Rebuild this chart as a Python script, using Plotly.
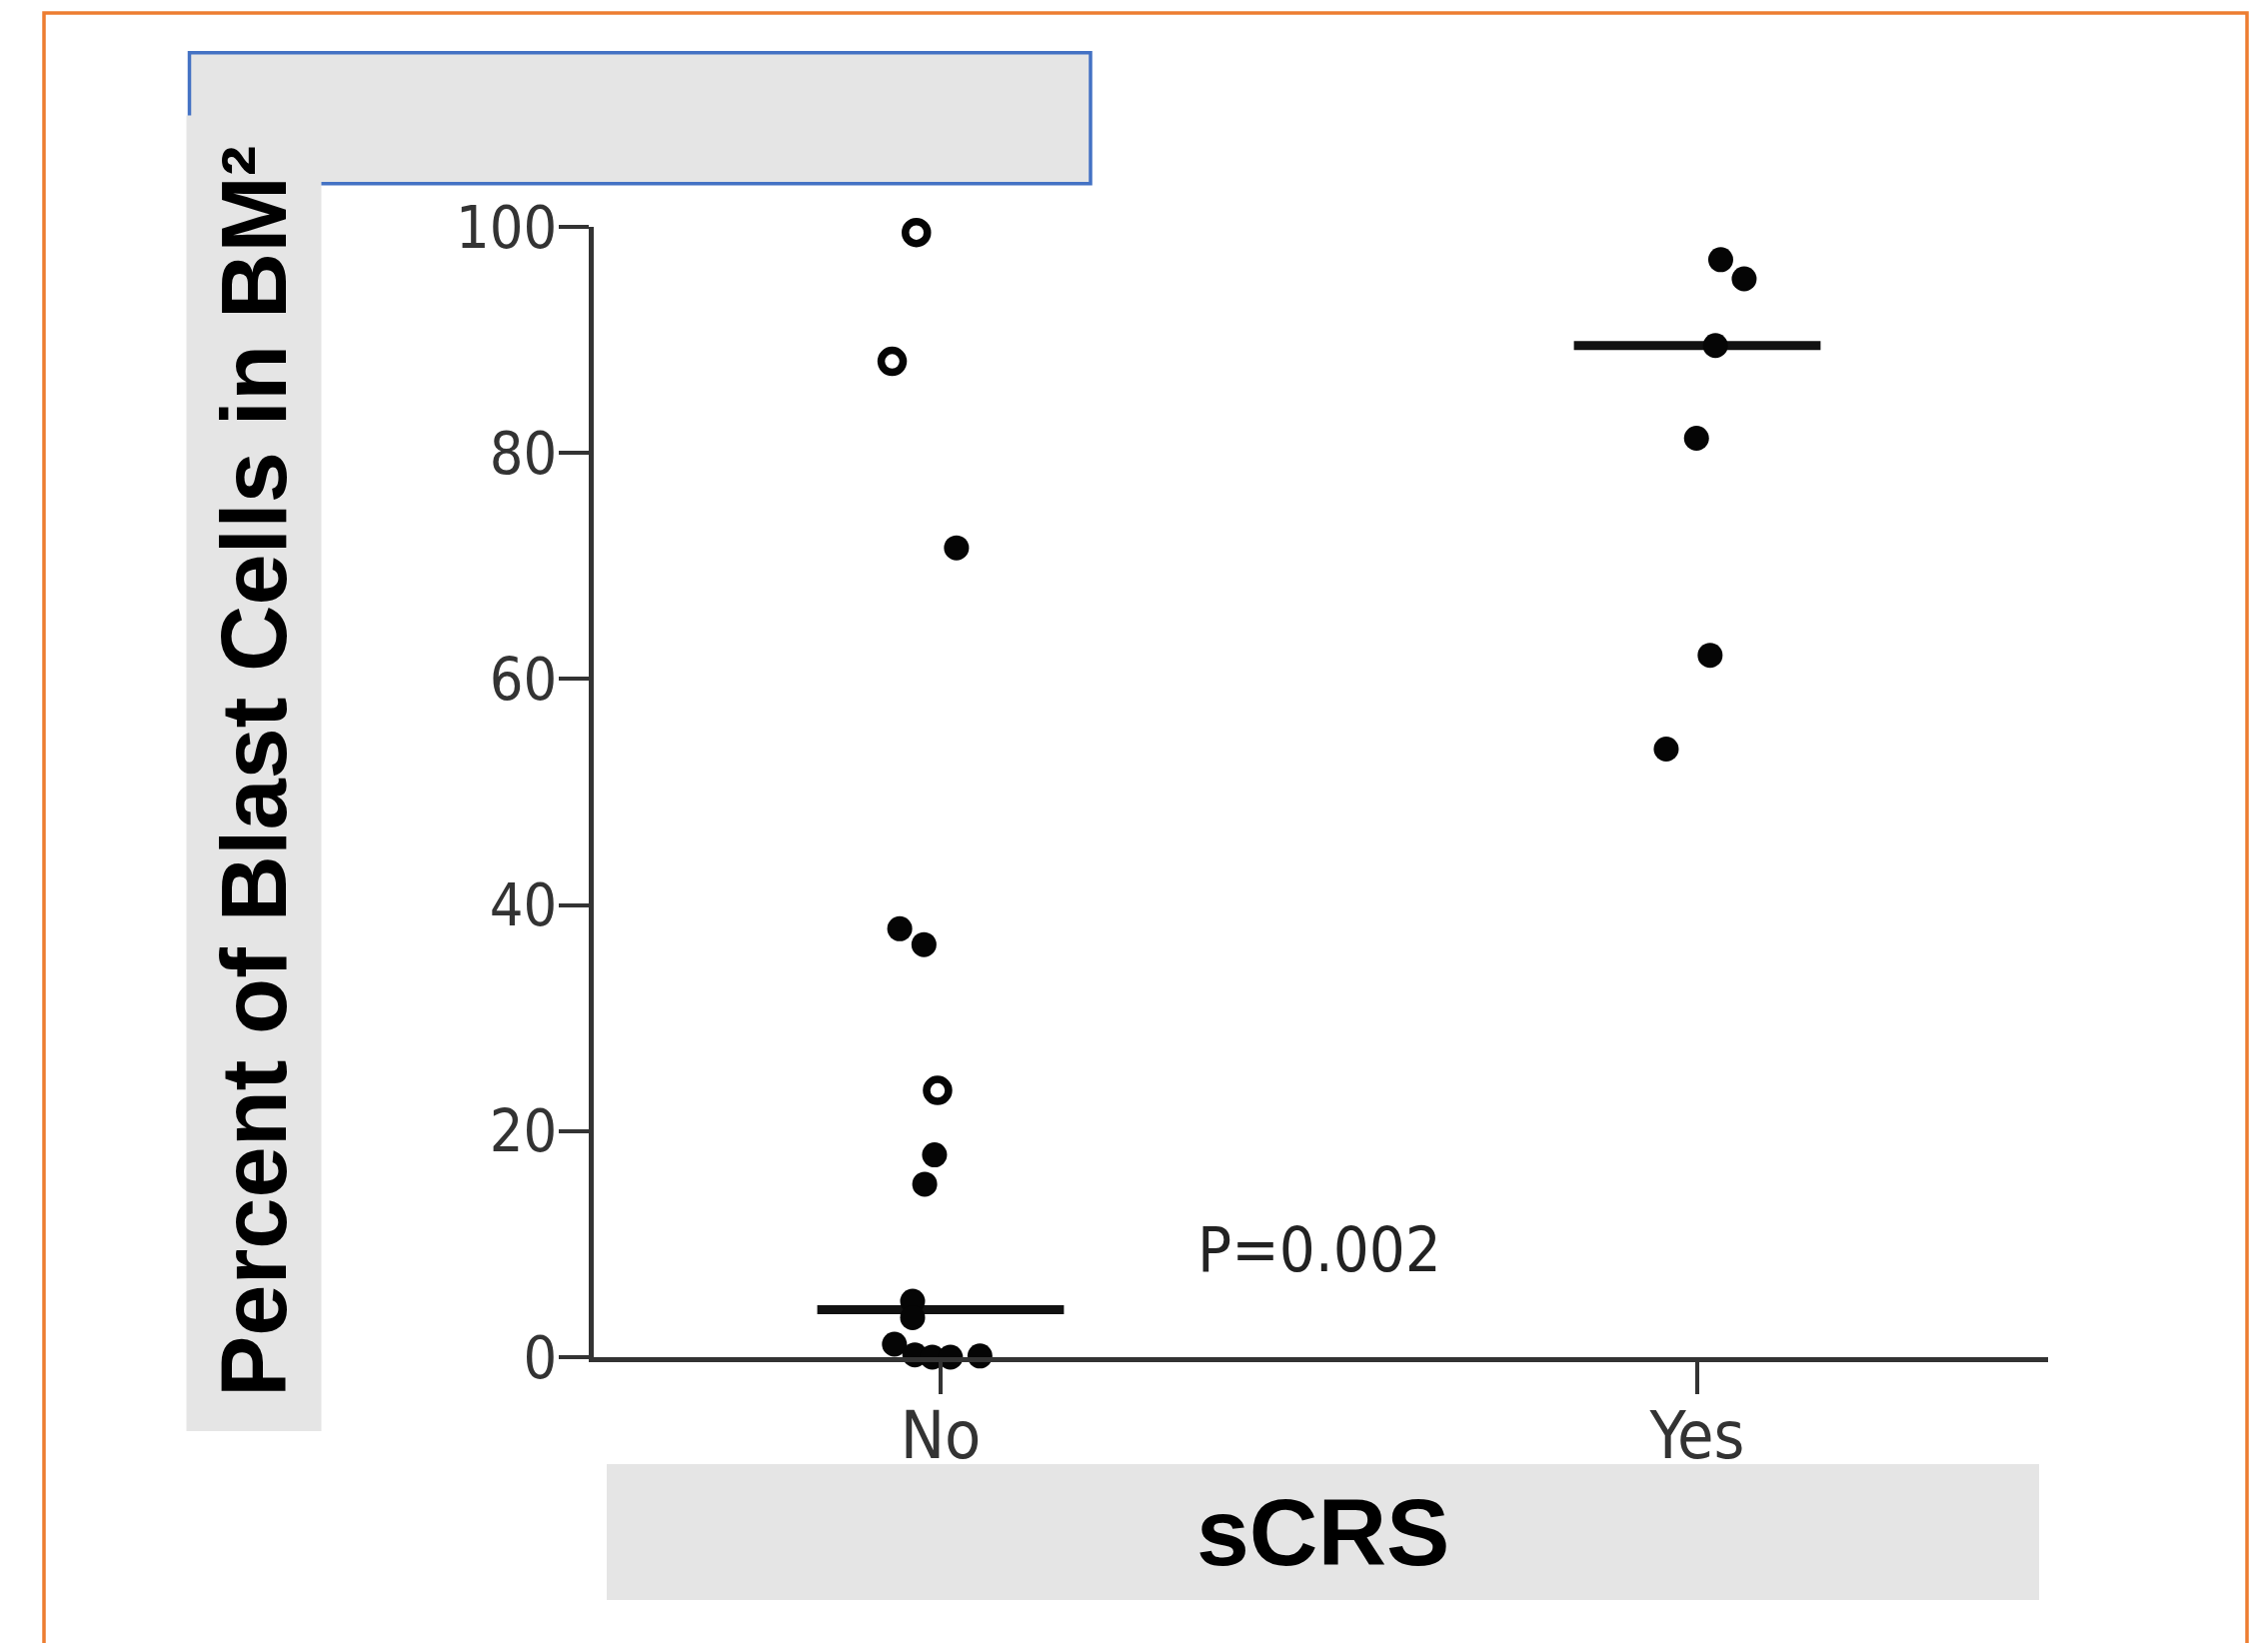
import plotly.graph_objects as go

# ---------------- data ----------------
categories = ["No", "Yes"]

# "No" group – filled dots (value, horizontal jitter around the category)
no_filled_values = [71.6, 37.9, 36.5, 17.9, 15.3, 4.95, 3.5, 1.15, 0.2, 0.0, 0.0, 0.1]
no_filled_jitter = [0.021, -0.054, -0.022, -0.008, -0.021, -0.037, -0.037, -0.061, -0.034, -0.011, 0.013, 0.052]

# "No" group – open circles
no_open_values = [99.5, 88.1, 23.6]
no_open_jitter = [-0.032, -0.064, -0.004]

# "Yes" group – filled dots
yes_values = [97.1, 95.4, 89.5, 81.3, 62.1, 53.8]
yes_jitter = [0.031, 0.062, 0.024, -0.001, 0.017, -0.041]

# median bars
medians = [4.2, 89.5]

y_ticks = [0, 20, 40, 60, 80, 100]
p_label = "P=0.002"
y_title = "Percent of Blast Cells in BM²"
x_title = "sCRS"

# ---------------- geometry / styles ----------------
W, H = 2269, 1644
L, R, T, B = 594, 2049, 227, 1358
PW, PH = R - L, B - T


def fx(px):
    return (px - L) / PW


def fy(py):
    return (B - py) / PH


narrow = "Liberation Sans Narrow, Arial Narrow, DejaVu Sans Condensed, Roboto, sans-serif"
boldfam = "Liberation Sans, Arial, Helvetica, sans-serif"
ink = "#333333"
half_bar = 0.163

fig = go.Figure()

# median bars
for i, m in enumerate(medians):
    fig.add_trace(go.Scatter(
        x=[i - half_bar, i + half_bar], y=[m, m], mode="lines",
        line=dict(color="#111111", width=9), cliponaxis=False,
        hoverinfo="skip", showlegend=False))

fig.add_trace(go.Scatter(
    x=[0 + j for j in no_filled_jitter], y=no_filled_values, mode="markers",
    marker=dict(symbol="circle", size=25, color="#050505", line=dict(width=0)),
    cliponaxis=False, showlegend=False))

fig.add_trace(go.Scatter(
    x=[0 + j for j in no_open_jitter], y=no_open_values, mode="markers",
    marker=dict(symbol="circle-open", size=22, color="#050505", line=dict(width=7.5, color="#050505")),
    cliponaxis=False, showlegend=False))

fig.add_trace(go.Scatter(
    x=[1 + j for j in yes_jitter], y=yes_values, mode="markers",
    marker=dict(symbol="circle", size=25, color="#050505", line=dict(width=0)),
    cliponaxis=False, showlegend=False))

x_lo = -fx(941) / (fx(1698) - fx(941))
x_span = 1 / (fx(1698) - fx(941))

fig.update_layout(
    width=W, height=H,
    margin=dict(l=L, r=W - R, t=T, b=H - B, pad=0),
    paper_bgcolor="white", plot_bgcolor="white",
    showlegend=False,
    xaxis=dict(
        range=[x_lo, x_lo + x_span], tickmode="array", tickvals=[0, 1], ticktext=categories,
        showline=True, linecolor=ink, linewidth=5, mirror=False,
        ticks="outside", ticklen=32, tickwidth=4, tickcolor=ink,
        showgrid=False, zeroline=False, ticklabelstandoff=-15,
        tickfont=dict(family=narrow, size=66, color=ink)),
    yaxis=dict(
        range=[0, 100], tickmode="array", tickvals=y_ticks,
        showline=True, linecolor=ink, linewidth=5, mirror=False,
        ticks="outside", ticklen=30, tickwidth=4, tickcolor=ink,
        showgrid=False, zeroline=False, ticklabelstandoff=-10,
        tickfont=dict(family=narrow, size=59, color=ink)),
    shapes=[
        # orange outer frame
        dict(type="rect", xref="paper", yref="paper", layer="below",
             x0=fx(44), x1=fx(2248), y0=fy(1700), y1=fy(13),
             line=dict(color="#ED7D31", width=3.5), fillcolor="rgba(0,0,0,0)"),
        # grey box with blue border (top)
        dict(type="rect", xref="paper", yref="paper", layer="below",
             x0=fx(189.5), x1=fx(1091), y0=fy(183.7), y1=fy(52.7),
             line=dict(color="#4472C4", width=3.5), fillcolor="#E5E5E5"),
        # grey box behind y title
        dict(type="rect", xref="paper", yref="paper", layer="below",
             x0=fx(186.5), x1=fx(321.5), y0=fy(1432), y1=fy(115.5),
             line=dict(width=0), fillcolor="#E5E5E5"),
        # grey box behind x title
        dict(type="rect", xref="paper", yref="paper", layer="below",
             x0=fx(607), x1=fx(2040), y0=fy(1601), y1=fy(1465),
             line=dict(width=0), fillcolor="#E5E5E5"),
    ],
    annotations=[
        dict(text=y_title, xref="paper", yref="paper", x=fx(254), y=fy(772),
             xanchor="center", yanchor="middle", textangle=-90, showarrow=False,
             font=dict(family=boldfam, size=92, color="#000000", weight="bold")),
        dict(text=x_title, xref="paper", yref="paper", x=fx(1323), y=fy(1533),
             xanchor="center", yanchor="middle", showarrow=False,
             font=dict(family=boldfam, size=95, color="#000000", weight="bold")),
        dict(text=p_label, xref="x", yref="y", x=0.5, y=9.5,
             xanchor="center", yanchor="middle", showarrow=False,
             font=dict(family=narrow, size=63, color="#222222")),
    ],
)

fig.write_html("out.html", config={"displayModeBar": False},
               post_script="document.body.style.margin='0';document.body.style.overflow='hidden';")
